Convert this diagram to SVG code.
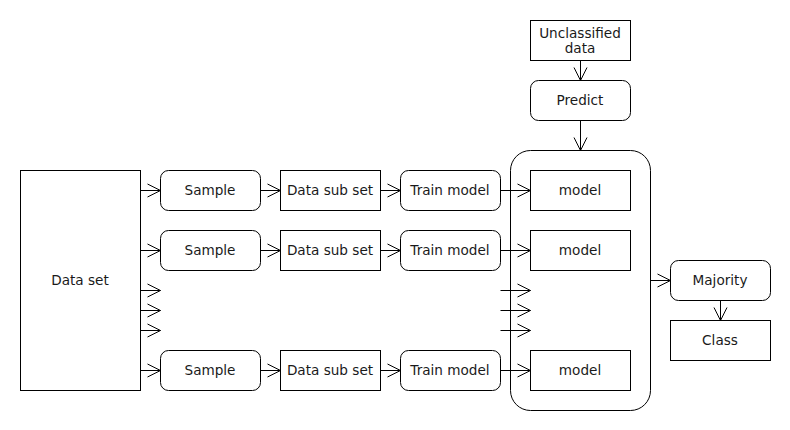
<svg xmlns="http://www.w3.org/2000/svg" width="790" height="430" viewBox="0 0 790 430">
<style>
.b{fill:#fff;stroke:#000;stroke-width:1}
text{font-family:"DejaVu Sans",sans-serif;font-size:13.6px;fill:#1a1a1a;text-anchor:middle;dominant-baseline:central}
.c line{stroke:#000;stroke-width:1}
</style>
<defs>
<marker id="a" markerUnits="userSpaceOnUse" markerWidth="16" markerHeight="16" viewBox="-14 -8 16 16" refX="0" refY="0" orient="auto" overflow="visible">
<path d="M-13,-6.5 L0,0 L-13,6.5" fill="none" stroke="#000" stroke-width="1"/>
</marker>
</defs>
<rect width="790" height="430" fill="#fff"/>
<g id="container"><rect class="b" x="510.5" y="150.5" width="140" height="260" rx="20"/></g>
<g id="dataset"><rect class="b" x="20.5" y="170.5" width="120" height="220"/><text x="80" y="280">Data set</text></g>
<g id="sample1"><rect class="b" x="160.5" y="170.5" width="100" height="40" rx="8"/><text x="210" y="190">Sample</text></g>
<g id="sample2"><rect class="b" x="160.5" y="230.5" width="100" height="40" rx="8"/><text x="210" y="250">Sample</text></g>
<g id="sample3"><rect class="b" x="160.5" y="350.5" width="100" height="40" rx="8"/><text x="210" y="370">Sample</text></g>
<g id="subset1"><rect class="b" x="280.5" y="170.5" width="100" height="40"/><text x="330" y="190">Data sub set</text></g>
<g id="subset2"><rect class="b" x="280.5" y="230.5" width="100" height="40"/><text x="330" y="250">Data sub set</text></g>
<g id="subset3"><rect class="b" x="280.5" y="350.5" width="100" height="40"/><text x="330" y="370">Data sub set</text></g>
<g id="train1"><rect class="b" x="400.5" y="170.5" width="100" height="40" rx="8"/><text x="450" y="190">Train model</text></g>
<g id="train2"><rect class="b" x="400.5" y="230.5" width="100" height="40" rx="8"/><text x="450" y="250">Train model</text></g>
<g id="train3"><rect class="b" x="400.5" y="350.5" width="100" height="40" rx="8"/><text x="450" y="370">Train model</text></g>
<g id="model1"><rect class="b" x="530.5" y="170.5" width="100" height="40"/><text x="580" y="190">model</text></g>
<g id="model2"><rect class="b" x="530.5" y="230.5" width="100" height="40"/><text x="580" y="250">model</text></g>
<g id="model3"><rect class="b" x="530.5" y="350.5" width="100" height="40"/><text x="580" y="370">model</text></g>
<g id="unclassified"><rect class="b" x="530.5" y="20.5" width="100" height="40"/><text x="580" y="33">Unclassified</text><text x="580" y="48">data</text></g>
<g id="predict"><rect class="b" x="530.5" y="80.5" width="100" height="40" rx="8"/><text x="580" y="100">Predict</text></g>
<g id="majority"><rect class="b" x="670.5" y="260.5" width="100" height="40" rx="8"/><text x="720" y="280">Majority</text></g>
<g id="class"><rect class="b" x="670.5" y="320.5" width="100" height="40"/><text x="720" y="340">Class</text></g>
<g class="c" id="connectors">
<line x1="140.5" y1="190.5" x2="160.5" y2="190.5" marker-end="url(#a)"/>
<line x1="140.5" y1="250.5" x2="160.5" y2="250.5" marker-end="url(#a)"/>
<line x1="140.5" y1="290.5" x2="160.5" y2="290.5" marker-end="url(#a)"/>
<line x1="140.5" y1="310.5" x2="160.5" y2="310.5" marker-end="url(#a)"/>
<line x1="140.5" y1="330.5" x2="160.5" y2="330.5" marker-end="url(#a)"/>
<line x1="140.5" y1="370.5" x2="160.5" y2="370.5" marker-end="url(#a)"/>
<line x1="260.5" y1="190.5" x2="280.5" y2="190.5" marker-end="url(#a)"/>
<line x1="260.5" y1="250.5" x2="280.5" y2="250.5" marker-end="url(#a)"/>
<line x1="260.5" y1="370.5" x2="280.5" y2="370.5" marker-end="url(#a)"/>
<line x1="380.5" y1="190.5" x2="400.5" y2="190.5" marker-end="url(#a)"/>
<line x1="380.5" y1="250.5" x2="400.5" y2="250.5" marker-end="url(#a)"/>
<line x1="380.5" y1="370.5" x2="400.5" y2="370.5" marker-end="url(#a)"/>
<line x1="500.5" y1="190.5" x2="530.5" y2="190.5" marker-end="url(#a)"/>
<line x1="500.5" y1="250.5" x2="530.5" y2="250.5" marker-end="url(#a)"/>
<line x1="500.5" y1="290.5" x2="530.5" y2="290.5" marker-end="url(#a)"/>
<line x1="500.5" y1="310.5" x2="530.5" y2="310.5" marker-end="url(#a)"/>
<line x1="500.5" y1="330.5" x2="530.5" y2="330.5" marker-end="url(#a)"/>
<line x1="500.5" y1="370.5" x2="530.5" y2="370.5" marker-end="url(#a)"/>
<line x1="580.5" y1="60.5" x2="580.5" y2="80.5" marker-end="url(#a)"/>
<line x1="580.5" y1="120.5" x2="580.5" y2="150.5" marker-end="url(#a)"/>
<line x1="650.5" y1="280.5" x2="670.5" y2="280.5" marker-end="url(#a)"/>
<line x1="720.5" y1="300.5" x2="720.5" y2="320.5" marker-end="url(#a)"/>
</g>
</svg>
